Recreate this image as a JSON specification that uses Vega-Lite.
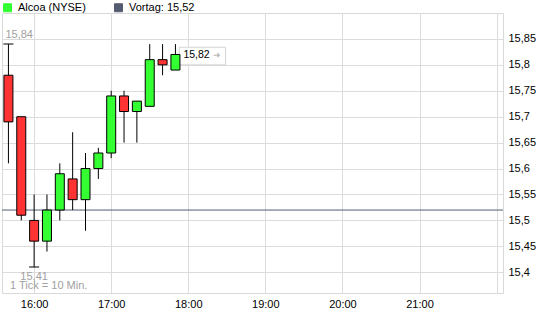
{
  "$schema": "https://vega.github.io/schema/vega-lite/v6.json",
  "width": 501,
  "height": 280,
  "autosize": {"type": "none"},
  "padding": {"left": 2, "top": 13, "right": 42, "bottom": 34},
  "background": "white",
  "config": {
    "font": "Liberation Sans",
    "view": {"stroke": "#d9d9d9", "strokeWidth": 1},
    "axis": {"labelFont": "Liberation Sans", "labelFontSize": 11, "labelColor": "#000000", "gridColor": "#dcdcdc", "gridWidth": 1, "domain": false, "ticks": false, "title": null, "labelOverlap": false}
  },
  "datasets": {
    "candles": [
      {"t": "2024-01-01T15:40:00", "open": 15.78, "high": 15.84, "low": 15.61, "close": 15.69},
      {"t": "2024-01-01T15:50:00", "open": 15.70, "high": 15.70, "low": 15.50, "close": 15.51},
      {"t": "2024-01-01T16:00:00", "open": 15.50, "high": 15.55, "low": 15.41, "close": 15.46},
      {"t": "2024-01-01T16:10:00", "open": 15.46, "high": 15.55, "low": 15.44, "close": 15.52},
      {"t": "2024-01-01T16:20:00", "open": 15.52, "high": 15.61, "low": 15.50, "close": 15.59},
      {"t": "2024-01-01T16:30:00", "open": 15.58, "high": 15.67, "low": 15.52, "close": 15.54},
      {"t": "2024-01-01T16:40:00", "open": 15.54, "high": 15.63, "low": 15.48, "close": 15.60},
      {"t": "2024-01-01T16:50:00", "open": 15.60, "high": 15.64, "low": 15.58, "close": 15.63},
      {"t": "2024-01-01T17:00:00", "open": 15.63, "high": 15.75, "low": 15.62, "close": 15.74},
      {"t": "2024-01-01T17:10:00", "open": 15.74, "high": 15.75, "low": 15.65, "close": 15.71},
      {"t": "2024-01-01T17:20:00", "open": 15.71, "high": 15.73, "low": 15.65, "close": 15.73},
      {"t": "2024-01-01T17:30:00", "open": 15.72, "high": 15.84, "low": 15.72, "close": 15.81},
      {"t": "2024-01-01T17:40:00", "open": 15.81, "high": 15.84, "low": 15.78, "close": 15.80},
      {"t": "2024-01-01T17:50:00", "open": 15.79, "high": 15.84, "low": 15.79, "close": 15.82}
    ]
  },
  "layer": [
    {
      "data": {"values": [{"series": "Vortag: 15,52", "v": 15.52}]},
      "mark": {"type": "rule", "strokeWidth": 1},
      "encoding": {
        "y": {"field": "v", "type": "quantitative",
          "scale": {"domain": [15.36, 15.9], "nice": false, "zero": false, "padding": 0},
          "axis": {"orient": "right", "values": [15.4, 15.45, 15.5, 15.55, 15.6, 15.65, 15.7, 15.75, 15.8, 15.85], "labelExpr": "replace(format(datum.value, '.2~f'), '.', ',')", "labelPadding": 5, "labelAlign": "left", "labelBaseline": "middle", "grid": true, "labelOverlap": false, "labelBound": false}},
        "color": {"field": "series", "type": "nominal",
          "scale": {"domain": ["Alcoa (NYSE)", "Vortag: 15,52"], "range": ["#33ff33", "#555c72"]},
          "legend": {"title": null, "orient": "none", "legendX": 0, "legendY": -11, "direction": "horizontal", "columns": 2, "columnPadding": 26, "labelOffset": 5, "labelFontSize": 11, "labelFont": "Liberation Sans", "labelColor": "#000000", "symbolType": "square", "symbolSize": 64, "symbolStrokeWidth": 1, "symbolStrokeColor": "#000000", "padding": 0,
            "encode": {"symbols": {"update": {"fill": {"scale": "color", "field": "value"}, "stroke": {"value": "#000000"}, "strokeWidth": {"value": 1}, "shape": {"value": "square"}, "size": {"value": 64}, "opacity": {"value": 1}}}}}}
      }
    },
    {
      "data": {"values": [{"a": "2024-01-01T17:53:00", "b": "2024-01-01T18:29:00", "y1": 15.80, "y2": 15.834}]},
      "mark": {"type": "rect", "fill": "#ffffff", "stroke": "#d4d4d4", "strokeWidth": 1},
      "encoding": {
        "x": {"field": "a", "type": "temporal"},
        "x2": {"field": "b"},
        "y": {"field": "y1", "type": "quantitative", "axis": {"orient": "right", "values": [15.4, 15.45, 15.5, 15.55, 15.6, 15.65, 15.7, 15.75, 15.8, 15.85], "labelExpr": "replace(format(datum.value, '.2~f'), '.', ',')", "labelPadding": 5, "labelAlign": "left", "labelBaseline": "middle", "grid": true, "labelOverlap": false, "labelBound": false}},
        "y2": {"field": "y2"}
      }
    },
    {
      "data": {"name": "candles"},
      "mark": {"type": "rule", "color": "#000000", "strokeWidth": 1},
      "encoding": {
        "x": {"field": "t", "type": "temporal",
          "scale": {"domain": [{"year": 2024, "month": 1, "date": 1, "hours": 15, "minutes": 35}, {"year": 2024, "month": 1, "date": 1, "hours": 22, "minutes": 5}], "padding": 0},
          "axis": {"values": [
            {"year": 2024, "month": 1, "date": 1, "hours": 16},
            {"year": 2024, "month": 1, "date": 1, "hours": 17},
            {"year": 2024, "month": 1, "date": 1, "hours": 18},
            {"year": 2024, "month": 1, "date": 1, "hours": 19},
            {"year": 2024, "month": 1, "date": 1, "hours": 20},
            {"year": 2024, "month": 1, "date": 1, "hours": 21},
            {"year": 2024, "month": 1, "date": 1, "hours": 22}],
            "format": "%H:%M", "labelPadding": 5, "labelBaseline": "top", "grid": true, "labelOverlap": false,
            "labelExpr": "hours(datum.value) == 22 ? '' : datum.label"}},
        "y": {"field": "low", "type": "quantitative", "axis": {"orient": "right", "values": [15.4, 15.45, 15.5, 15.55, 15.6, 15.65, 15.7, 15.75, 15.8, 15.85], "labelExpr": "replace(format(datum.value, '.2~f'), '.', ',')", "labelPadding": 5, "labelAlign": "left", "labelBaseline": "middle", "grid": true, "labelOverlap": false, "labelBound": false}},
        "y2": {"field": "high"}
      }
    },
    {
      "data": {"name": "candles"},
      "mark": {"type": "bar", "width": 9, "stroke": "#000000", "strokeWidth": 1},
      "encoding": {
        "x": {"field": "t", "type": "temporal"},
        "y": {"field": "open", "type": "quantitative", "axis": {"orient": "right", "values": [15.4, 15.45, 15.5, 15.55, 15.6, 15.65, 15.7, 15.75, 15.8, 15.85], "labelExpr": "replace(format(datum.value, '.2~f'), '.', ',')", "labelPadding": 5, "labelAlign": "left", "labelBaseline": "middle", "grid": true, "labelOverlap": false, "labelBound": false}},
        "y2": {"field": "close"},
        "fill": {"condition": {"test": "datum.close < datum.open", "value": "#ff3333"}, "value": "#33ff33"}
      }
    },
    {
      "data": {"values": [{"t": "2024-01-01T15:40:00", "v": 15.84}, {"t": "2024-01-01T16:00:00", "v": 15.41}]},
      "mark": {"type": "tick", "orient": "horizontal", "size": 10, "thickness": 1, "color": "#000000", "opacity": 1},
      "encoding": {
        "x": {"field": "t", "type": "temporal"},
        "y": {"field": "v", "type": "quantitative", "axis": {"orient": "right", "values": [15.4, 15.45, 15.5, 15.55, 15.6, 15.65, 15.7, 15.75, 15.8, 15.85], "labelExpr": "replace(format(datum.value, '.2~f'), '.', ',')", "labelPadding": 5, "labelAlign": "left", "labelBaseline": "middle", "grid": true, "labelOverlap": false, "labelBound": false}}
      }
    },
    {
      "data": {"values": [{"t": "2024-01-01T15:40:00", "v": 15.84, "label": "15,84"}]},
      "mark": {"type": "text", "align": "left", "baseline": "alphabetic", "dx": -3, "dy": -6, "fontSize": 11, "color": "#a0a0a0"},
      "encoding": {
        "x": {"field": "t", "type": "temporal"},
        "y": {"field": "v", "type": "quantitative", "axis": {"orient": "right", "values": [15.4, 15.45, 15.5, 15.55, 15.6, 15.65, 15.7, 15.75, 15.8, 15.85], "labelExpr": "replace(format(datum.value, '.2~f'), '.', ',')", "labelPadding": 5, "labelAlign": "left", "labelBaseline": "middle", "grid": true, "labelOverlap": false, "labelBound": false}},
        "text": {"field": "label"}
      }
    },
    {
      "data": {"values": [{"t": "2024-01-01T16:00:00", "v": 15.41, "label": "15,41"}]},
      "mark": {"type": "text", "align": "center", "baseline": "alphabetic", "dx": 0, "dy": 13, "fontSize": 11, "color": "#a0a0a0"},
      "encoding": {
        "x": {"field": "t", "type": "temporal"},
        "y": {"field": "v", "type": "quantitative", "axis": {"orient": "right", "values": [15.4, 15.45, 15.5, 15.55, 15.6, 15.65, 15.7, 15.75, 15.8, 15.85], "labelExpr": "replace(format(datum.value, '.2~f'), '.', ',')", "labelPadding": 5, "labelAlign": "left", "labelBaseline": "middle", "grid": true, "labelOverlap": false, "labelBound": false}},
        "text": {"field": "label"}
      }
    },
    {
      "data": {"values": [{"t": "2024-01-01T15:35:00", "v": 15.36, "label": "1 Tick = 10 Min."}]},
      "mark": {"type": "text", "align": "left", "baseline": "alphabetic", "dx": 8, "dy": -4, "fontSize": 11, "color": "#a0a0a0"},
      "encoding": {
        "x": {"field": "t", "type": "temporal"},
        "y": {"field": "v", "type": "quantitative", "axis": {"orient": "right", "values": [15.4, 15.45, 15.5, 15.55, 15.6, 15.65, 15.7, 15.75, 15.8, 15.85], "labelExpr": "replace(format(datum.value, '.2~f'), '.', ',')", "labelPadding": 5, "labelAlign": "left", "labelBaseline": "middle", "grid": true, "labelOverlap": false, "labelBound": false}},
        "text": {"field": "label"}
      }
    },
    {
      "data": {"values": [{"t": "2024-01-01T17:50:00", "v": 15.82, "label": "15,82"}]},
      "mark": {"type": "text", "align": "left", "baseline": "middle", "dx": 8, "dy": 1, "fontSize": 10.5, "color": "#000000"},
      "encoding": {
        "x": {"field": "t", "type": "temporal"},
        "y": {"field": "v", "type": "quantitative", "axis": {"orient": "right", "values": [15.4, 15.45, 15.5, 15.55, 15.6, 15.65, 15.7, 15.75, 15.8, 15.85], "labelExpr": "replace(format(datum.value, '.2~f'), '.', ',')", "labelPadding": 5, "labelAlign": "left", "labelBaseline": "middle", "grid": true, "labelOverlap": false, "labelBound": false}},
        "text": {"field": "label"}
      }
    },
    {
      "data": {"values": [{"t": "2024-01-01T17:50:00", "v": 15.82, "label": "➜"}]},
      "mark": {"type": "text", "align": "left", "baseline": "middle", "dx": 38, "dy": 1, "fontSize": 9, "color": "#b8b8b8"},
      "encoding": {
        "x": {"field": "t", "type": "temporal"},
        "y": {"field": "v", "type": "quantitative", "axis": {"orient": "right", "values": [15.4, 15.45, 15.5, 15.55, 15.6, 15.65, 15.7, 15.75, 15.8, 15.85], "labelExpr": "replace(format(datum.value, '.2~f'), '.', ',')", "labelPadding": 5, "labelAlign": "left", "labelBaseline": "middle", "grid": true, "labelOverlap": false, "labelBound": false}},
        "text": {"field": "label"}
      }
    }
  ]
}
